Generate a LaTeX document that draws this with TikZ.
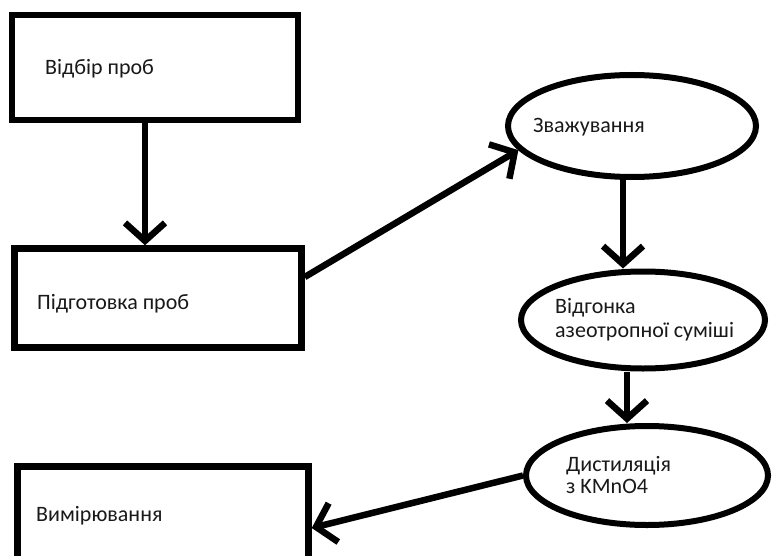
\documentclass[tikz,border=0pt]{standalone}
\usepackage{fontspec}
\setmainfont{Carlito}
\usetikzlibrary{shapes.geometric,arrows.meta}
\begin{document}
\begin{tikzpicture}[x=1pt,y=-1pt,
  box/.style={draw,line width=6.5pt,rectangle,inner sep=0pt},
  oval/.style={draw,line width=6pt,ellipse,inner sep=0pt},
  lbl/.style={anchor=base west,inner sep=0pt,font=\fontsize{22}{24}\selectfont,align=left,text=black!90},
  arr/.style={line width=6.5pt,-{Straight Barb[length=18pt,width=40pt]}}]
\useasboundingbox[fill=white] (0,0) rectangle (773,556);
% shapes
\node[box,minimum width=286pt,minimum height=105pt] (b1) at (155,67.5) {};
\node[box,minimum width=287pt,minimum height=99pt] (b2) at (158,298) {};
\node[box,minimum width=291pt,minimum height=101pt] (b3) at (163,517) {};
\node[oval,minimum width=248pt,minimum height=102pt] (e1) at (632,126) {};
\node[oval,minimum width=244pt,minimum height=97pt] (e2) at (643,320) {};
\node[oval,minimum width=242pt,minimum height=99pt] (e3) at (647,475.5) {};
% labels
\node[lbl] (t1) at (45,75) {Відбір проб};
\node[lbl] (t2) at (37,309) {Підготовка проб};
\node[lbl] (t3) at (36,521) {Вимірювання};
\node[lbl] (t4) at (533,133) {Зважування};
\node[lbl,font=\fontsize{22}{24}\selectfont] (t5) at (555,337) {Відгонка\\азеотропної суміші};
\node[lbl,font=\fontsize{22}{21.5}\selectfont] (t6) at (566,493) {Дистиляція\\з KMnO4};
% connectors
\draw[arr] ([xshift=-10pt]b1.south) -- ([xshift=-10pt]b1.south |- b2.north);
\draw[arr] ([yshift=21pt]b2.east) -- (e1.192);
\draw[arr] ([xshift=-9pt]e1.south) -- ([xshift=-9pt]e1.south |- e2.north);
\draw[arr] ([xshift=-16pt]e2.south) -- ([xshift=-16pt]e2.south |- e3.north);
\draw[arr] (e3.west) -- ([yshift=-11pt]b3.east);
\end{tikzpicture}
\end{document}
